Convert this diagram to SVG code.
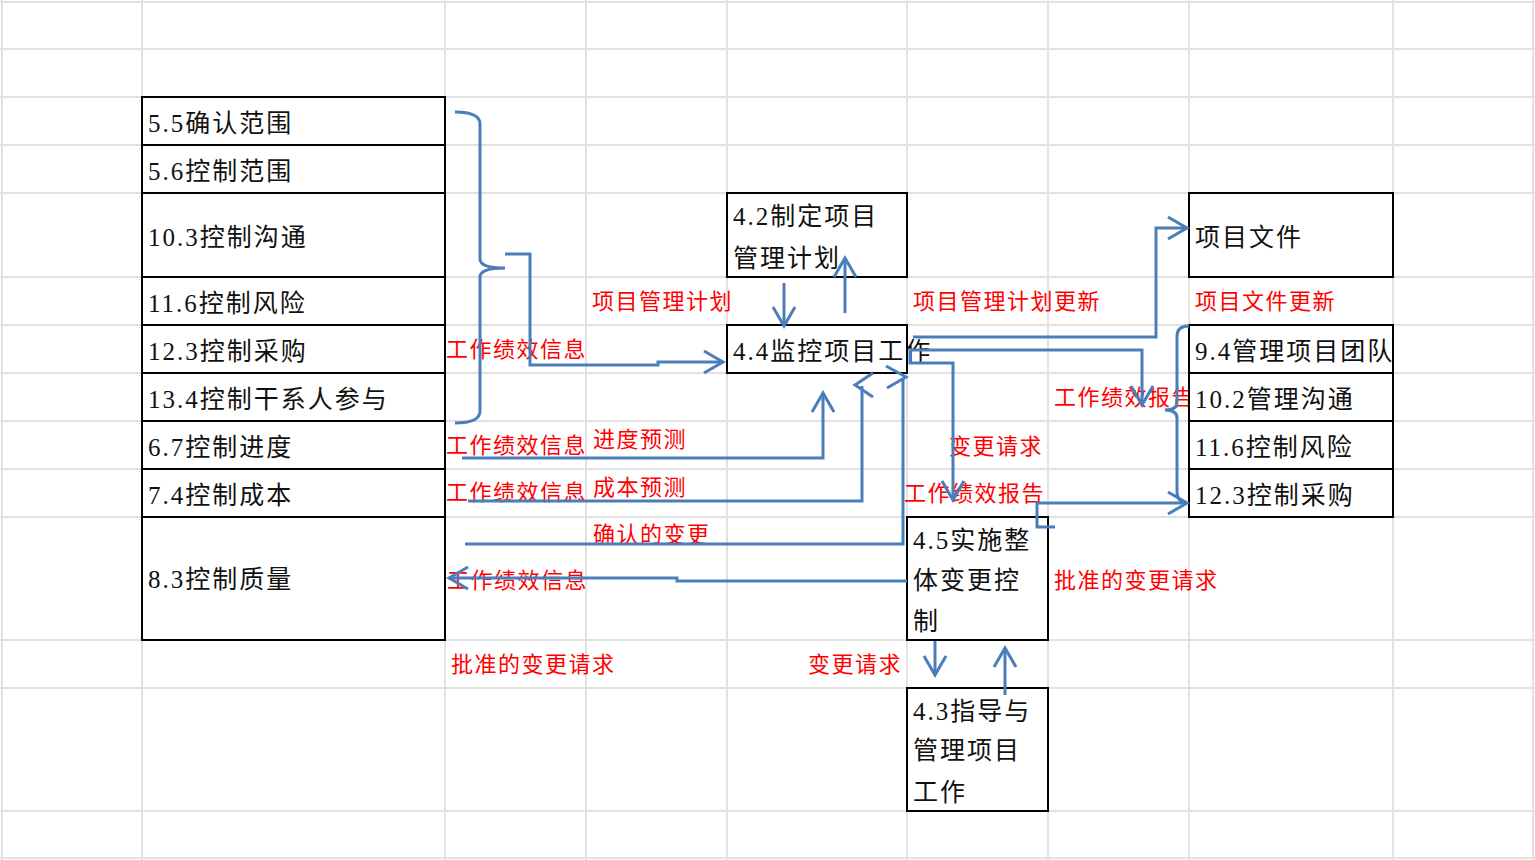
<svg xmlns="http://www.w3.org/2000/svg" width="1535" height="860" viewBox="0 0 1535 860">
<style>
.grid line{stroke:#e2e2e2;stroke-width:2}
.box{fill:#fff;stroke:#000;stroke-width:2}
.t{font-family:"Liberation Serif","Noto Sans CJK SC",serif;font-size:25px;letter-spacing:2px;fill:#111}
.r{font-family:"Liberation Serif","Noto Sans CJK SC",serif;font-size:22px;letter-spacing:1.5px;fill:#ff0000}
.c{fill:none;stroke:#4a7ebb;stroke-width:3;stroke-linejoin:miter}
</style>
<defs>
<marker id="ah" markerUnits="userSpaceOnUse" viewBox="-22 -14 26 28" refX="0" refY="0" markerWidth="26" markerHeight="28" orient="auto" overflow="visible">
<path d="M-19,-11 L0,0 L-19,11" fill="none" stroke="#4a7ebb" stroke-width="3"/>
</marker>
</defs>
<rect width="1535" height="860" fill="#fff"/>
<g class="grid">
<line x1="2" y1="0" x2="2" y2="860"/><line x1="142" y1="0" x2="142" y2="860"/><line x1="445" y1="0" x2="445" y2="860"/><line x1="586" y1="0" x2="586" y2="860"/><line x1="727" y1="0" x2="727" y2="860"/><line x1="907" y1="0" x2="907" y2="860"/><line x1="1048" y1="0" x2="1048" y2="860"/><line x1="1189" y1="0" x2="1189" y2="860"/><line x1="1393" y1="0" x2="1393" y2="860"/><line x1="1533" y1="0" x2="1533" y2="860"/>
<line x1="0" y1="2" x2="1535" y2="2"/><line x1="0" y1="49" x2="1535" y2="49"/><line x1="0" y1="97" x2="1535" y2="97"/><line x1="0" y1="145" x2="1535" y2="145"/><line x1="0" y1="193" x2="1535" y2="193"/><line x1="0" y1="277" x2="1535" y2="277"/><line x1="0" y1="325" x2="1535" y2="325"/><line x1="0" y1="373" x2="1535" y2="373"/><line x1="0" y1="421" x2="1535" y2="421"/><line x1="0" y1="469" x2="1535" y2="469"/><line x1="0" y1="517" x2="1535" y2="517"/><line x1="0" y1="640" x2="1535" y2="640"/><line x1="0" y1="688" x2="1535" y2="688"/><line x1="0" y1="811" x2="1535" y2="811"/><line x1="0" y1="858" x2="1535" y2="858"/>
</g>
<g id="labels">
<text class="r" x="592" y="309">项目管理计划</text>
<text class="r" x="913" y="309">项目管理计划更新</text>
<text class="r" x="1195" y="309">项目文件更新</text>
<text class="r" x="446" y="357">工作绩效信息</text>
<text class="r" x="1054" y="405">工作绩效报告</text>
<text class="r" x="446" y="453">工作绩效信息</text>
<text class="r" x="593" y="447">进度预测</text>
<text class="r" x="949" y="454">变更请求</text>
<text class="r" x="446" y="500">工作绩效信息</text>
<text class="r" x="593" y="495">成本预测</text>
<text class="r" x="904" y="501">工作绩效报告</text>
<text class="r" x="593" y="542">确认的变更</text>
<text class="r" x="447" y="588">工作绩效信息</text>
<text class="r" x="1054" y="588">批准的变更请求</text>
<text class="r" x="451" y="672">批准的变更请求</text>
<text class="r" x="808" y="672">变更请求</text>
</g>
<g id="n55"><rect class="box" x="142" y="97" width="303" height="48"/><text class="t" x="148" y="132">5.5确认范围</text></g>
<g id="n56"><rect class="box" x="142" y="145" width="303" height="48"/><text class="t" x="148" y="180">5.6控制范围</text></g>
<g id="n103"><rect class="box" x="142" y="193" width="303" height="84"/><text class="t" x="148" y="246">10.3控制沟通</text></g>
<g id="n116"><rect class="box" x="142" y="277" width="303" height="48"/><text class="t" x="148" y="312">11.6控制风险</text></g>
<g id="n123"><rect class="box" x="142" y="325" width="303" height="48"/><text class="t" x="148" y="360">12.3控制采购</text></g>
<g id="n134"><rect class="box" x="142" y="373" width="303" height="48"/><text class="t" x="148" y="408">13.4控制干系人参与</text></g>
<g id="n67"><rect class="box" x="142" y="421" width="303" height="48"/><text class="t" x="148" y="456">6.7控制进度</text></g>
<g id="n74"><rect class="box" x="142" y="469" width="303" height="48"/><text class="t" x="148" y="504">7.4控制成本</text></g>
<g id="n83"><rect class="box" x="142" y="517" width="303" height="123"/><text class="t" x="148" y="588">8.3控制质量</text></g>
<g id="n42"><rect class="box" x="727" y="193" width="180" height="84"/><text class="t" x="733" y="225">4.2制定项目</text><text class="t" x="733" y="267">管理计划</text></g>
<g id="n44"><rect class="box" x="727" y="325" width="180" height="48"/><text class="t" x="733" y="360">4.4监控项目工作</text></g>
<g id="n45"><rect class="box" x="907" y="517" width="141" height="123"/><text class="t" x="913" y="549">4.5实施整</text><text class="t" x="913" y="589">体变更控</text><text class="t" x="913" y="630">制</text></g>
<g id="n43"><rect class="box" x="907" y="688" width="141" height="123"/><text class="t" x="913" y="720">4.3指导与</text><text class="t" x="913" y="759">管理项目</text><text class="t" x="913" y="801">工作</text></g>
<g id="ndocs"><rect class="box" x="1189" y="193" width="204" height="84"/><text class="t" x="1195" y="246">项目文件</text></g>
<g id="n94"><rect class="box" x="1189" y="325" width="204" height="48"/><text class="t" x="1195" y="360">9.4管理项目团队</text></g>
<g id="n102"><rect class="box" x="1189" y="373" width="204" height="48"/><text class="t" x="1195" y="408">10.2管理沟通</text></g>
<g id="n116b"><rect class="box" x="1189" y="421" width="204" height="48"/><text class="t" x="1195" y="456">11.6控制风险</text></g>
<g id="n123b"><rect class="box" x="1189" y="469" width="204" height="48"/><text class="t" x="1195" y="504">12.3控制采购</text></g>
<g id="connectors">
<path class="c" d="M455,112 Q480,112 480,124 L480,259 Q480,268 505,268 Q480,268 480,277 L480,411 Q480,423 455,423"/>
<path class="c" d="M505,254 H530 V365 H658 V362 H723" marker-end="url(#ah)"/>
<path class="c" d="M784,283 V326" marker-end="url(#ah)"/>
<path class="c" d="M845,313 V258" marker-end="url(#ah)"/>
<path class="c" d="M913,337 H1156 V228 H1187" marker-end="url(#ah)"/>
<path class="c" d="M910,350 H1142 V405" marker-end="url(#ah)"/>
<path class="c" d="M910,350 V363 H953 V500" marker-end="url(#ah)"/>
<path class="c" d="M1189,326 Q1177,326 1177,336 L1177,402 Q1177,410 1165,410 Q1177,410 1177,418 L1177,492 Q1177,502 1187,503"/>
<path class="c" d="M1055,527 H1037 V503 H1187" marker-end="url(#ah)"/>
<path class="c" d="M462,458 H823 V393" marker-end="url(#ah)"/>
<path class="c" d="M468,501 H862 V386"/>
<path class="c" d="M873,373 L855,385 L873,397"/>
<path class="c" d="M465,544 H903 V379"/>
<path class="c" d="M886,366 L906,377 L887,388"/>
<path class="c" d="M907,581 H677 V578 H449" marker-end="url(#ah)"/>
<path class="c" d="M935,641 V675" marker-end="url(#ah)"/>
<path class="c" d="M1005,695 V648" marker-end="url(#ah)"/>
</g>
</svg>
